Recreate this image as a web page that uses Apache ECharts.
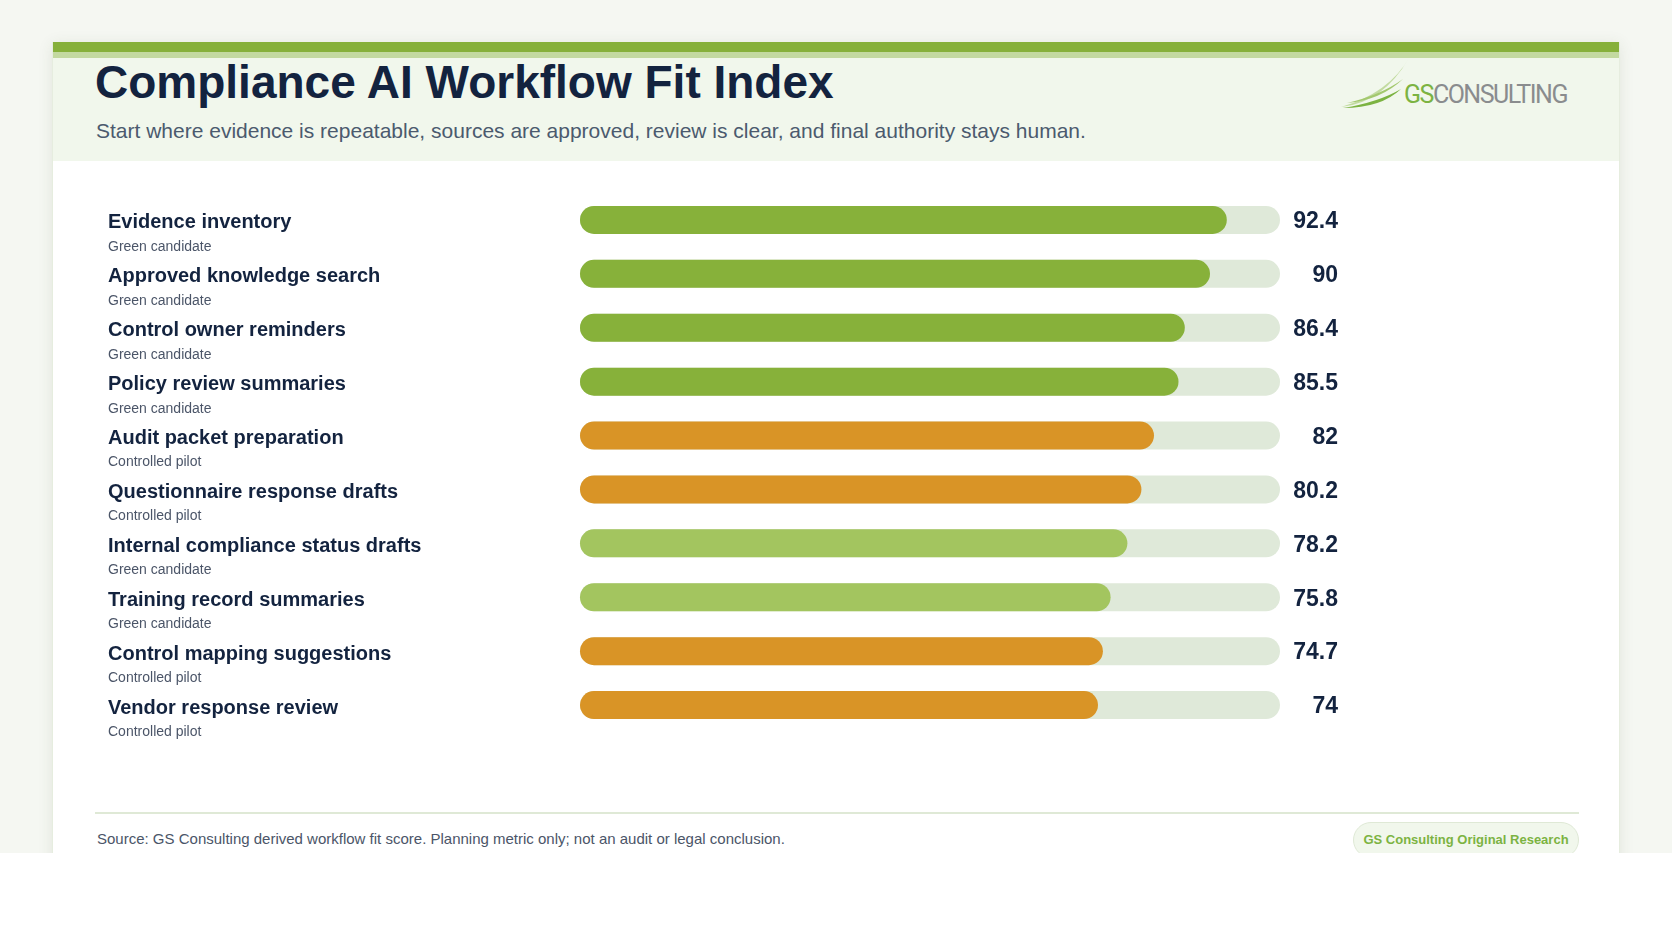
<!DOCTYPE html>
<html>
<head>
<meta charset="utf-8">
<script src="https://cdn.jsdelivr.net/npm/echarts@6/dist/echarts.min.js"></script>
<style>
  html, body { margin: 0; padding: 0; width: 1672px; height: 941px; background: #ffffff; overflow: hidden; font-family: "Liberation Sans", Arial, sans-serif; }
  #page { position: absolute; left: 0; top: 0; width: 1672px; height: 853px; background: #f5f7f2; overflow: hidden; }
  #card { position: absolute; left: 52px; top: 42px; width: 1568px; height: 860px; background: #ffffff; box-shadow: 0 2px 14px rgba(60, 80, 40, 0.10); border-left: 1px solid #e6eddf; border-right: 1px solid #e6eddf; box-sizing: border-box; }
  #stripe1 { position: absolute; left: 0; top: 0; width: 100%; height: 10px; background: #86b03a; }
  #stripe2 { position: absolute; left: 0; top: 10px; width: 100%; height: 6px; background: #c3d9a0; }
  #header { position: absolute; left: 0; top: 16px; width: 100%; height: 103px; background: #f1f7ec; }
  #title { position: absolute; left: 42px; top: -2px; margin: 0; font-size: 46px; font-weight: 700; color: #13233f; letter-spacing: 0px; line-height: 52px; white-space: nowrap; }
  #subtitle { position: absolute; left: 43px; top: 61px; font-size: 21px; color: #4b5a6e; line-height: 24px; white-space: nowrap; }
  #logo { position: absolute; left: 1284px; top: -7px; width: 240px; height: 62px; }
  #logotext { position: absolute; left: 67px; top: 29px; font-family: Roboto, "Noto Sans", sans-serif; font-size: 25px; font-weight: 400; letter-spacing: -1.5px; color: #8a8c8e; line-height: 30px; white-space: nowrap; }
  #logotext .gs { color: #7cb342; }
  #rule { position: absolute; left: 42px; top: 770px; width: 1484px; height: 2px; background: #dfe9d6; }
  #source { position: absolute; left: 44px; top: 788px; font-size: 15px; color: #4b5568; line-height: 18px; white-space: nowrap; }
  #badge { position: absolute; left: 1300px; top: 780px; width: 226px; height: 36px; box-sizing: border-box; background: #f1f7ec; border: 1px solid #dfe9d6; border-radius: 18px; color: #7cb342; font-weight: 700; font-size: 13px; line-height: 34px; text-align: center; white-space: nowrap; }
  #chart { position: absolute; left: 0; top: 0; width: 1672px; height: 941px; }
</style>
</head>
<body>
<div id="page">
  <div id="card">
    <div id="stripe1"></div>
    <div id="stripe2"></div>
    <div id="header">
      <h1 id="title">Compliance AI Workflow Fit Index</h1>
      <div id="subtitle">Start where evidence is repeatable, sources are approved, review is clear, and final authority stays human.</div>
      <div id="logo">
        <svg width="80" height="62" viewBox="0 0 80 62" style="position:absolute;left:0;top:0">
          <path d="M4 56 Q46 52 72 7 Q52 42 4 56 Z" fill="#c2dba0"/>
          <path d="M6 57 Q44 57 64 38 Q42 51 6 57 Z" fill="#7cb342"/>
          <path d="M10 52 Q44 49 66 28 Q44 44 10 52 Z" fill="#a3c86e"/>
        </svg>
        <div id="logotext"><span class="gs">GS</span>CONSULTING</div>
      </div>
    </div>
    <div id="rule"></div>
    <div id="source">Source: GS Consulting derived workflow fit score. Planning metric only; not an audit or legal conclusion.</div>
    <div id="badge">GS Consulting Original Research</div>
  </div>
</div>
<div id="chart"></div>
<script>
const workflows = [
  "Evidence inventory",
  "Approved knowledge search",
  "Control owner reminders",
  "Policy review summaries",
  "Audit packet preparation",
  "Questionnaire response drafts",
  "Internal compliance status drafts",
  "Training record summaries",
  "Control mapping suggestions",
  "Vendor response review"
];
const statuses = [
  "Green candidate",
  "Green candidate",
  "Green candidate",
  "Green candidate",
  "Controlled pilot",
  "Controlled pilot",
  "Green candidate",
  "Green candidate",
  "Controlled pilot",
  "Controlled pilot"
];
const scores = [92.4, 90, 86.4, 85.5, 82, 80.2, 78.2, 75.8, 74.7, 74];
const scaleMax = 100;

function barColor(idx) {
  if (statuses[idx] === "Controlled pilot") return "#d99426";
  return scores[idx] >= 80 ? "#87b13a" : "#a3c55f";
}

const chart = echarts.init(document.getElementById("chart"), null, { renderer: "canvas" });
chart.setOption({
  animation: false,
  backgroundColor: "transparent",
  grid: { left: 580, width: 700, top: 193, height: 539, containLabel: false },
  xAxis: { type: "value", min: 0, max: scaleMax, show: false },
  yAxis: {
    type: "category",
    inverse: true,
    data: workflows,
    axisLine: { show: false },
    axisTick: { show: false },
    splitLine: { show: false },
    axisLabel: {
      margin: 472,
      align: "left",
      padding: [30, 0, 0, 0],
      formatter: function (value, idx) {
        return "{n|" + value + "}\n{s|" + statuses[idx] + "}";
      },
      rich: {
        n: { fontFamily: "Liberation Sans, Arial, sans-serif", fontSize: 20, fontWeight: 700, color: "#13233f", lineHeight: 24 },
        s: { fontFamily: "Liberation Sans, Arial, sans-serif", fontSize: 14, color: "#4b5568", lineHeight: 24 }
      }
    }
  },
  series: [
    {
      type: "bar",
      silent: true,
      barWidth: 28,
      barGap: "-100%",
      data: scores.map(() => scaleMax),
      itemStyle: { color: "#dfe9d9", borderRadius: 14 },
      label: {
        show: true,
        position: ["100%", "50%"],
        offset: [58, 2],
        align: "right",
        verticalAlign: "middle",
        fontFamily: "Liberation Sans, Arial, sans-serif",
        fontSize: 23,
        fontWeight: 700,
        color: "#13233f",
        formatter: function (p) { return String(scores[p.dataIndex]); }
      },
      z: 1
    },
    {
      type: "bar",
      barWidth: 28,
      barGap: "-100%",
      data: scores.map((v, i) => ({ value: v, itemStyle: { color: barColor(i) } })),
      itemStyle: { borderRadius: 14 },
      z: 2
    }
  ]
});
</script>
</body>
</html>
